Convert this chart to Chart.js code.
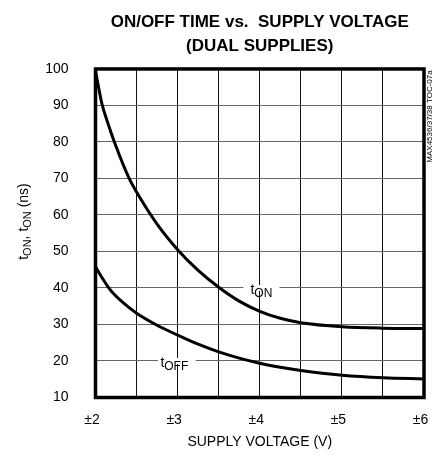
<!DOCTYPE html>
<html>
<head>
<meta charset="utf-8">
<script src="https://cdn.jsdelivr.net/npm/chart.js@4.4.1/dist/chart.umd.min.js"></script>
<style>
	html, body { margin: 0; padding: 0; background: #fff; }
	#wrap { width: 437px; height: 459px; }
</style>
</head>
<body>
<div id="wrap"><canvas id="myChart"></canvas></div>
<script>
// supply voltage (±V) and switching times (ns)
const voltage = [2.0, 2.08, 2.15, 2.23, 2.41, 2.5, 2.75, 3.0, 3.25, 3.5, 3.75, 4.0, 4.25, 4.5, 5.0, 5.5, 6.0];
const tOn = [99.5, 90.3, 85.2, 80, 70, 66.3, 57.5, 50.5, 44.8, 40.2, 36.4, 33.6, 31.7, 30.5, 29.4, 29.0, 28.9];
const tOff = [45.8, 42.8, 40.4, 38.2, 34.6, 33.1, 29.8, 27.1, 24.6, 22.5, 20.8, 19.4, 18.3, 17.4, 16.1, 15.4, 15.1];
const xTickValues = [2, 3, 4, 5, 6];
const xTickLabels = ['±2', '±3', '±4', '±5', '±6'];

const FONT = "'Liberation Sans', Arial, Helvetica, sans-serif";
Chart.defaults.font.family = FONT;
Chart.defaults.color = '#000';

function pts(ys) {
	return voltage.map((v, i) => ({ x: v, y: ys[i] }));
}

// draws main text + subscript, starting at x, baseline y
function subText(ctx, x, y, main, sub, size, subSize, subDrop) {
	ctx.font = size + 'px ' + FONT;
	ctx.fillText(main, x, y);
	let w = ctx.measureText(main).width;
	ctx.font = subSize + 'px ' + FONT;
	ctx.fillText(sub, x + w, y + subDrop);
	return w + ctx.measureText(sub).width;
}
function subWidth(ctx, main, sub, size, subSize) {
	ctx.font = size + 'px ' + FONT;
	let w = ctx.measureText(main).width;
	ctx.font = subSize + 'px ' + FONT;
	return w + ctx.measureText(sub).width;
}

const curveLabels = {
	id: 'curveLabels',
	beforeDatasetsDraw(chart) {
		const ctx = chart.ctx;
		const xs = chart.scales.x, ys = chart.scales.y;
		const items = [
			{ sub: 'ON', at: 4.02, y: 40, from: 3.80, to: 4.24 },
			{ sub: 'OFF', at: 2.96, y: 20, from: 2.76, to: 3.22 }
		];
		ctx.save();
		items.forEach(it => {
			const gy = ys.getPixelForValue(it.y);
			const x1 = xs.getPixelForValue(it.from), x2 = xs.getPixelForValue(it.to);
			ctx.fillStyle = '#fff';
			ctx.fillRect(x1, gy - 3, x2 - x1, 6);
			ctx.fillStyle = '#000';
			ctx.textAlign = 'left';
			ctx.textBaseline = 'alphabetic';
			const cx = xs.getPixelForValue(it.at);
			const w = subWidth(ctx, 't', it.sub, 14, 12);
			subText(ctx, cx - w / 2, gy + 6.5, 't', it.sub, 14, 12, 3);
		});
		ctx.restore();
	}
};

const frameAndNotes = {
	id: 'frameAndNotes',
	afterDraw(chart) {
		const ctx = chart.ctx;
		const a = chart.chartArea;
		ctx.save();
		ctx.strokeStyle = '#000';
		ctx.lineWidth = 3.5;
		ctx.strokeRect(a.left, a.top, a.right - a.left, a.bottom - a.top);

		// y axis title with subscripts
		ctx.fillStyle = '#000';
		ctx.textAlign = 'left';
		ctx.textBaseline = 'alphabetic';
		ctx.translate(28, 221.5);
		ctx.rotate(-Math.PI / 2);
		let w = subWidth(ctx, 't', 'ON', 14, 11) * 2;
		ctx.font = '14px ' + FONT;
		w += ctx.measureText(', ').width + ctx.measureText(' (ns)').width;
		let x = -w / 2;
		x += subText(ctx, x, 0, 't', 'ON', 14, 11, 3);
		ctx.font = '14px ' + FONT;
		ctx.fillText(', ', x, 0);
		x += ctx.measureText(', ').width;
		x += subText(ctx, x, 0, 't', 'ON', 14, 11, 3);
		ctx.font = '14px ' + FONT;
		ctx.fillText(' (ns)', x, 0);
		ctx.restore();

		// part number note at right edge
		ctx.save();
		ctx.fillStyle = '#000';
		ctx.translate(429.5, 116.5);
		ctx.rotate(-Math.PI / 2);
		ctx.font = '8px ' + FONT;
		ctx.textAlign = 'center';
		ctx.textBaseline = 'middle';
		ctx.fillText('MAX4536/37/38 TOC-07a', 0, 0);
		ctx.restore();
	}
};

const ctx = document.getElementById('myChart');
new Chart(ctx, {
	type: 'scatter',
	data: {
		datasets: [{
			label: 'tON',
			data: pts(tOn),
			showLine: true,
			borderColor: '#000',
			borderWidth: 3,
			pointRadius: 0,
			cubicInterpolationMode: 'monotone'
		}, {
			label: 'tOFF',
			data: pts(tOff),
			showLine: true,
			borderColor: '#000',
			borderWidth: 3,
			pointRadius: 0,
			cubicInterpolationMode: 'monotone'
		}]
	},
	options: {
		responsive: true,
		maintainAspectRatio: false,
		animation: false,
		layout: { padding: { left: 0, right: 13, top: 0, bottom: 0 } },
		plugins: {
			legend: { display: false },
			tooltip: { enabled: false },
			title: {
				display: true,
				fullSize: false,
				text: ['ON/OFF TIME vs.  SUPPLY VOLTAGE', '(DUAL SUPPLIES)'],
				font: { size: 17, weight: 'bold', lineHeight: 1.44 },
				color: '#000',
				padding: { top: 10, bottom: 10 }
			}
		},
		scales: {
			x: {
				type: 'linear',
				min: 2,
				max: 6,
				afterFit: s => {
					s.height = 61.5;
					s.paddingLeft = 0;
					s.paddingRight = 0;
				},
				afterBuildTicks: s => {
					let t = [];
					for (let v = 2; v <= 6.001; v += 0.5) t.push({ value: v });
					s.ticks = t;
				},
				ticks: {
					padding: 14,
					labelOffset: -3.5,
					font: { size: 14 },
					color: '#000',
					autoSkip: false,
					maxRotation: 0,
					callback: v => {
						const i = xTickValues.indexOf(v);
						return i >= 0 ? xTickLabels[i] : '';
					}
				},
				grid: { color: '#111', lineWidth: 1, drawTicks: false },
				border: { display: false },
				title: {
					display: true,
					text: 'SUPPLY VOLTAGE (V)',
					font: { size: 14 },
					color: '#000',
					padding: { top: 0, bottom: 8 }
				}
			},
			y: {
				min: 10,
				max: 100,
				afterFit: s => { s.width = 95.5; },
				ticks: {
					stepSize: 10,
					padding: 27,
					font: { size: 14 },
					color: '#000'
				},
				grid: { color: '#666', lineWidth: 1, drawTicks: false },
				border: { display: false }
			}
		}
	},
	plugins: [curveLabels, frameAndNotes]
});
</script>
</body>
</html>
